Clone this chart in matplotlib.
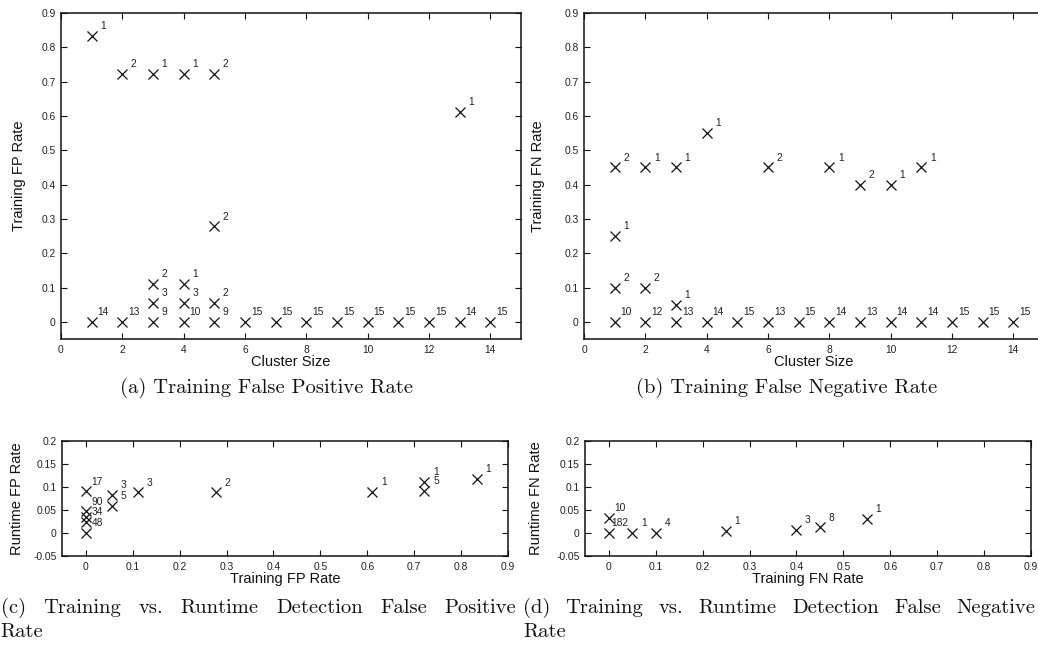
import matplotlib
matplotlib.use('Agg')
import matplotlib.pyplot as plt
from matplotlib.ticker import FuncFormatter

plt.rcParams['font.family'] = ['Liberation Sans', 'DejaVu Sans']
plt.rcParams['axes.unicode_minus'] = False

# ---------------- data ----------------
# (a) Training FP rate vs cluster size
a_x = [1, 2, 3, 4, 5, 13, 5, 3, 4, 3, 4, 5,
       1, 2, 3, 4, 5, 6, 7, 8, 9, 10, 11, 12, 13, 14]
a_y = [0.833, 0.722, 0.722, 0.722, 0.722, 0.611, 0.278, 0.111, 0.111, 0.056, 0.056, 0.056,
       0, 0, 0, 0, 0, 0, 0, 0, 0, 0, 0, 0, 0, 0]
a_lbl = ["1", "2", "1", "1", "2", "1", "2", "2", "1", "3", "3", "2",
         "14", "13", "9", "10", "9", "15", "15", "15", "15", "15", "15", "15", "14", "15"]

# (b) Training FN rate vs cluster size
b_x = [1, 2, 3, 4, 6, 8, 9, 10, 11, 1, 1, 2, 3,
       1, 2, 3, 4, 5, 6, 7, 8, 9, 10, 11, 12, 13, 14]
b_y = [0.45, 0.45, 0.45, 0.55, 0.45, 0.45, 0.40, 0.40, 0.45, 0.25, 0.10, 0.10, 0.05,
       0, 0, 0, 0, 0, 0, 0, 0, 0, 0, 0, 0, 0, 0]
b_lbl = ["2", "1", "1", "1", "2", "1", "2", "1", "1", "1", "2", "2", "1",
         "10", "12", "13", "14", "15", "13", "15", "14", "13", "14", "14", "15", "15", "15"]

# (c) Training vs runtime FP rate
c_x = [0, 0, 0, 0, 0, 0.056, 0.056, 0.111, 0.278, 0.611, 0.722, 0.722, 0.833]
c_y = [0.090, 0.047, 0.034, 0.024, 0.0, 0.082, 0.058, 0.088, 0.088, 0.089, 0.111, 0.092, 0.117]
c_lbl = ["17", "90", "", "34", "48", "3", "5", "3", "2", "1", "1", "5", "1"]

# (d) Training vs runtime FN rate
d_x = [0, 0, 0.05, 0.1, 0.25, 0.40, 0.45, 0.55]
d_y = [0.033, 0.0, 0.0, 0.0, 0.005, 0.0065, 0.012, 0.030]
d_lbl = ["10", "182", "1", "4", "1", "3", "8", "1"]

cap_a = "(a) Training False Positive Rate"
cap_b = "(b) Training False Negative Rate"
cap_c_words = ["(c)", "Training", "vs.", "Runtime", "Detection", "False", "Positive"]
cap_d_words = ["(d)", "Training", "vs.", "Runtime", "Detection", "False", "Negative"]

# ---------------- layout ----------------
W, H = 1038, 646
fig = plt.figure(figsize=(W / 100, H / 100), dpi=100)


def px_axes(l, t, r, b):
    return fig.add_axes([l / W, 1 - b / H, (r - l) / W, (b - t) / H])


fmt = FuncFormatter(lambda v, p: '%g' % round(v, 4))
INK = '#111111'


def style(ax, xlim, ylim, xticks, yticks, xlabel, ylabel, xlab_y, ylab_x):
    ax.set_xlim(*xlim)
    ax.set_ylim(*ylim)
    ax.set_xticks(xticks)
    ax.set_yticks(yticks)
    ax.xaxis.set_major_formatter(fmt)
    ax.yaxis.set_major_formatter(fmt)
    ax.tick_params(direction='in', top=True, right=True, length=4, width=0.8,
                   labelsize=7.4, pad=4, labelcolor='#222222', color=INK)
    for s in ax.spines.values():
        s.set_linewidth(1.1)
        s.set_color(INK)
    ax.set_xlabel(xlabel, fontsize=10.5, color='#111111')
    ax.xaxis.set_label_coords(0.5, xlab_y)
    ax.set_ylabel(ylabel, fontsize=10.5, color='#111111')
    ax.yaxis.set_label_coords(ylab_x, 0.5)


def scatter(ax, xs, ys, labels):
    ax.scatter(xs, ys, marker='x', s=52, linewidths=0.9, color=INK, zorder=3, clip_on=False)
    for x, y, t in zip(xs, ys, labels):
        if t:
            ax.annotate(t, (x, y), xytext=(8.3, 7.0), textcoords='offset points',
                        ha='center', va='center', fontsize=7.4, color='#222222')


ax_a = px_axes(61, 13, 521, 339)
scatter(ax_a, a_x, a_y, a_lbl)
style(ax_a, (0, 15), (-0.05, 0.9), list(range(0, 15, 2)),
      [0, 0.1, 0.2, 0.3, 0.4, 0.5, 0.6, 0.7, 0.8, 0.9],
      "Cluster Size", "Training FP Rate", -0.049, -0.077)

ax_b = px_axes(584, 13, 1044, 339)
scatter(ax_b, b_x, b_y, b_lbl)
style(ax_b, (0, 15), (-0.05, 0.9), list(range(0, 15, 2)),
      [0, 0.1, 0.2, 0.3, 0.4, 0.5, 0.6, 0.7, 0.8, 0.9],
      "Cluster Size", "Training FN Rate", -0.049, -0.084)

xt = [0, 0.1, 0.2, 0.3, 0.4, 0.5, 0.6, 0.7, 0.8, 0.9]
yt = [-0.05, 0, 0.05, 0.1, 0.15, 0.2]

ax_c = px_axes(62.3, 440.7, 508, 556)
scatter(ax_c, c_x, c_y, c_lbl)
style(ax_c, (-0.05, 0.9), (-0.05, 0.2), xt, yt,
      "Training FP Rate", "Runtime FP Rate", -0.139, -0.087)

ax_d = px_axes(585.3, 440.7, 1031, 556)
scatter(ax_d, d_x, d_y, d_lbl)
style(ax_d, (-0.05, 0.9), (-0.05, 0.2), xt, yt,
      "Training FN Rate", "Runtime FN Rate", -0.139, -0.096)

# ---------------- captions ----------------
CAP = dict(family='cmr10', fontsize=14.8, color='#111111')
fig.text(266 / W, 1 - 393 / H, cap_a, ha='center', va='baseline', **CAP)
fig.text(786.5 / W, 1 - 393 / H, cap_b, ha='center', va='baseline', **CAP)

renderer = fig.canvas.get_renderer()


def justified(words, x0, x1, ybase):
    texts = [fig.text(0, 1 - ybase / H, w, ha='left', va='baseline', **CAP) for w in words]
    widths = [t.get_window_extent(renderer).width for t in texts]
    gap = (x1 - x0 - sum(widths)) / (len(words) - 1)
    x = x0
    for t, wd in zip(texts, widths):
        t.set_x(x / W)
        x += wd + gap


justified(cap_c_words, 0.7, 516, 613)
justified(cap_d_words, 523, 1035, 613)
fig.text(0.7 / W, 1 - 637 / H, "Rate", ha='left', va='baseline', **CAP)
fig.text(523 / W, 1 - 637 / H, "Rate", ha='left', va='baseline', **CAP)

fig.savefig('out.png', dpi=100)
